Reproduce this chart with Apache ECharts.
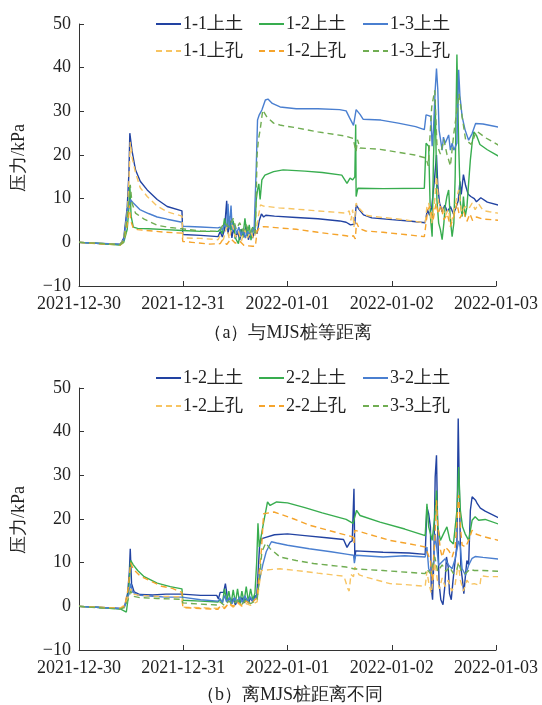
<!DOCTYPE html>
<html><head><meta charset="utf-8">
<script src="https://cdn.jsdelivr.net/npm/echarts@6/dist/echarts.min.js"></script>
<style>html,body{margin:0;padding:0;background:#fff}#c{width:542px;height:705px}</style>
</head><body><div id="c"></div>
<script>
// x values are hours since 2021-12-30 00:00
const tickLabels = ['2021-12-30','2021-12-31','2022-01-01','2022-01-02','2022-01-03'];
const captionA = '（a）与MJS桩等距离';
const captionB = '（b）离MJS桩距离不同';
const yName = '压力/kPa';

// ---- chart (a) ----
const namesA = ['1-1上土','1-2上土','1-3上土','1-1上孔','1-2上孔','1-3上孔'];
const a_11soil = [[0,0],[4,-0.2],[9.5,-0.5],[10.3,1.0],[11.1,8],[11.5,16],[11.7,25],[12.2,21],[13.0,16.6],[14.1,14],[15.7,12],[18,9.8],[20.3,8.2],[23.7,7.2],[23.9,1.8],[28,1.6],[32,1.3],
 [32.5,2.5],[33,1.2],[33.5,3],[34,9.5],[34.3,2],[34.8,5],[35.2,1],[35.6,3.5],[36,0.8],[36.5,2.5],[37,0.5],[37.5,3],[38,1.2],[38.5,4],[39,0.6],[39.5,2.5],[40,1],[40.5,3],[41,2],
 [41.5,5],[42,6.5],[42.5,5.8],[43,6.2],[45,6.0],[50,5.7],[55,5.4],[60,4.9],[61.5,4.6],[62.5,4.0],[63.5,4.2],[63.8,8.6],[64.5,7.5],[65.5,6.3],[67.4,5.6],[72,5.2],[76,4.9],[79.7,4.5],
 [80.2,7.5],[80.7,6.2],[81.2,8],[81.8,14],[82.3,20],[82.6,13],[83,9],[83.6,7],[84.2,8.5],[84.8,7],[85.5,8.2],[86.2,6.5],[86.8,8],[87.3,9.5],[87.7,14],[88,11],[88.5,15.5],[89,13],[89.6,11],[90.2,10.5],[91,10],[91.5,9.3],[92.5,10.2],[94,9.2],[97,8.4]];
const a_12soil = [[0,0],[4,-0.2],[9.5,-0.6],[10.3,0],[11.1,3],[11.5,8],[11.7,13],[12.0,6],[12.5,3.5],[13.5,3.2],[16,3.1],[20,2.9],[23.7,2.7],[23.9,2.6],[28,2.5],[32,2.5],
 [32.5,3],[33,2],[33.5,5.5],[34,3],[34.5,6],[35,2.5],[35.5,5],[36,1],[36.7,-0.3],[37.2,3],[37.7,1],[38.2,5.5],[38.7,1.5],[39.2,4],[39.6,0.5],[40,3.5],[40.5,2.5],
 [40.8,9.8],[41.1,12],[41.4,13.4],[41.7,9.8],[42.1,14.3],[42.8,15.4],[44.8,16.2],[47,16.6],[52,16.3],[56,16.0],[60.5,15.4],[61.7,13.5],[62.4,14.7],[63.0,14.3],[63.5,15],[63.7,27],[63.8,10.5],[64.2,12.4],[70,12.3],[79.5,12.4],
 [79.9,22.7],[80.5,22],[80.9,5.9],[81.3,1.3],[81.6,18.9],[82,32.6],[82.4,9.7],[82.8,4.4],[83.2,2.9],[83.6,0.6],[84,4.4],[84.3,8.2],[84.7,10.5],[85.1,12],[85.5,5.1],[85.9,1.3],[86.3,4.4],[86.6,15.1],[87.0,43],[87.4,22.7],[87.8,9],[88.2,5.9],[88.5,10.5],[88.9,5.9],[89.3,8],[89.7,13.6],[90.1,18.9],[90.5,22.7],[90.9,25.3],[91.5,24.5],[92.3,22.4],[94,21.2],[97,19.5]];
const a_13soil = [[0,0],[4,-0.2],[9.5,-0.4],[10.3,0.5],[11.0,6],[11.3,8.5],[11.5,7.8],[11.8,9.8],[12.5,9],[14,7.5],[16,6.6],[18,5.8],[20.3,5.3],[23.7,4.6],[23.9,3.7],[28,3.5],[32,3.3],
 [32.5,3.5],[33,2.8],[33.5,4],[34,3],[34.3,8.8],[34.6,3],[35,8.4],[35.3,2.5],[35.8,4],[36.3,2],[36.8,3.5],[37.3,1.5],[37.8,3],[38.3,1],[38.8,2.5],[39.3,1.5],[39.8,3],[40.3,2.5],[40.6,2.8],
 [40.8,17],[41.1,28],[41.5,29.2],[41.7,28.8],[42.1,30.3],[42.9,32.6],[43.5,32.8],[44.5,31.8],[46.3,31.0],[50,30.6],[55,30.6],[60,30.4],[61.5,30.1],[62.3,28.5],[63.2,26.8],[63.6,26.7],[63.8,30.4],[64.7,29.3],[65.4,28.2],[69.5,28],[73.5,27.3],[77.5,26.5],[79.5,25.8],
 [79.9,29.2],[80.5,29],[81,28.8],[81.3,22],[81.6,25.7],[82,34.9],[82.3,39.8],[82.6,35],[82.9,25.7],[83.6,21.1],[83.9,24.1],[84.3,22.7],[85.1,24.6],[85.5,21.1],[85.9,22.7],[86.3,21.1],[87,22.7],[87.4,39.5],[87.7,33.5],[88.2,28.8],[88.9,25.7],[89.7,23.4],[90.5,24.9],[91.3,27.2],[93,27.1],[97,26.3]];
const a_11hole = [[0,0],[4,-0.2],[9.5,-0.5],[10.3,0.8],[11.1,6],[11.5,14],[11.8,23],[12.3,19],[13,16],[14.1,12.5],[15.7,10.5],[18,8.3],[20.3,7],[23.7,6],[23.9,1.0],[28,0.9],[32,0.6],
 [32.5,1.5],[33.2,0.5],[34,3.5],[34.6,0.8],[35.3,4],[36,1.2],[36.7,2.5],[37.4,0.3],[38.1,3],[38.8,1],[39.5,2.5],[40.2,0.8],[40.8,2.5],
 [41.3,6],[41.8,8.6],[42.5,8.3],[46,7.9],[50,7.6],[55,7.2],[61.5,6.7],[62.2,7.2],[62.6,5],[63.0,7.5],[63.3,3.5],[63.8,9],[64.5,7.8],[66,6.2],[68,5.9],[73,5.4],[77.5,4.8],[79.7,4.4],
 [80.1,8.2],[80.5,9],[81.2,4.4],[81.9,9.7],[82.3,15.1],[82.8,9],[83.6,8.2],[84.3,6],[85,7.5],[85.7,4.4],[86.5,8.2],[87.4,12],[88.1,6.8],[88.9,8.2],[89.7,7.6],[90.5,9],[91.2,7.5],[92,8.8],[93,7.3],[94.5,7],[97,6.6]];
const a_12hole = [[0,0],[4,-0.3],[9.5,-0.6],[10.3,0.3],[11.1,4],[11.6,8.5],[11.9,5],[12.5,3.2],[13.5,2.9],[17,2.6],[20,2.3],[23.7,2.1],[23.9,0.2],[26,0],[30,-0.4],[32.5,-0.3],
 [33,0.5],[34,-0.5],[35,0.8],[36,-0.2],[37,0.3],[38,-0.7],[39,-0.8],[40,-0.9],[40.6,-0.9],
 [41,2.5],[41.5,3.3],[42.5,3.6],[46,3.3],[50,3.0],[55,2.3],[61.5,1.5],[62.5,1.3],[63.2,1.5],[63.6,0.8],[63.9,4.5],[64.5,3.2],[66,2.6],[70,2.3],[75,1.8],[79.5,1.3],
 [79.9,1.7],[80.3,7.5],[80.8,8.2],[81.5,5],[82.2,9],[82.7,6.5],[83.3,8.5],[84,5.2],[84.8,6.5],[85.5,3.6],[86.3,6],[87,9],[87.7,5.5],[88.5,7.2],[89.3,4.8],[90,6.5],[90.6,5],[91.5,5.8],[93,5.3],[95,5.2],[97,5.0]];
const a_13hole = [[0,0],[4,-0.2],[9.5,-0.5],[10.3,0.5],[11.0,5],[11.5,10],[11.8,13.2],[12.2,9],[13,6.7],[15,5.3],[18,3.9],[21,3.4],[23.7,3.1],[23.9,2.8],[28,2.6],[32,2.5],
 [32.5,3],[33.5,4.5],[34.5,3.5],[35.5,5.5],[36.2,3],[37,4.5],[37.8,2.5],[38.5,4],[39.3,2],[40,3.5],[40.6,2],
 [41,20],[41.3,23.5],[41.7,25.7],[42.3,30.3],[43.2,28.8],[44.8,27.3],[46.5,26.8],[49.6,26.3],[55,25.3],[61.5,24.3],[63.1,23.8],[63.5,22],[63.8,20.8],[64.1,23.5],[64.7,21.6],[69.3,21.3],[77.3,20.0],[79.9,19.3],
 [80.4,17.5],[81.2,31],[81.9,34.8],[82.4,22.4],[83.2,20.2],[84,23.5],[84.7,20.2],[85.5,17.5],[86.3,25],[87.5,34],[88.2,28.8],[89,23.5],[90.3,22.4],[91.5,25.5],[93.5,24],[97,22]];

// ---- chart (b) ----
const namesB = ['1-2上土','2-2上土','3-2上土','1-2上孔','2-2上孔','3-3上孔'];
const b_12soil = [[0,0],[4,-0.2],[9.5,-0.5],[10.5,0],[11.2,3],[11.6,8],[11.8,13.2],[12.1,5.2],[12.7,3.3],[14,2.7],[17,2.6],[20,2.8],[23.7,2.8],[23.9,2.5],[28,2.5],[31.7,2.5],[32.1,1.7],[32.5,3.2],[33.3,3.2],[33.7,5.2],[34,3.2],[34.2,1.2],
 [34.7,2],[35.1,0.5],[35.5,1.8],[36,0.3],[36.5,1.5],[37,0.6],[37.5,2],[38,0.8],[38.5,1.8],[39,0.7],[39.5,2],[40,1],[40.5,2.5],[40.9,2],
 [41.3,9],[41.6,14.3],[42.1,15.5],[43,15.8],[45,16.4],[48,16.6],[52,16.2],[57,15.7],[60.9,15.3],[61.7,13.5],[62.4,14.7],[62.9,15],[63.2,15.1],[63.3,26.9],[63.5,11],[63.7,12.7],[70,12.4],[76,12.2],[79.7,11.9],
 [80.1,22.7],[80.5,21.2],[80.9,18.2],[81.1,4.4],[81.4,1.5],[81.7,11.3],[82,29.6],[82.3,34.6],[82.6,16.6],[82.9,5.2],[83.3,1.5],[83.8,0.4],[84.2,4.4],[84.6,11.3],[85,9],[85.3,2.9],[85.7,1.5],[86.1,5.9],[86.6,10.5],[87,14],[87.3,43],[87.6,24.3],[87.9,9],[88.3,5.9],[88.6,2.9],[89,7.5],[89.3,10.5],[89.7,9.5],[90.1,22],[90.5,25.1],[90.9,25.5],[91.3,24.3],[91.7,23.5],[92.4,22.5],[93.5,21.8],[97,20.1]];
const b_22soil = [[0,0],[4,-0.2],[9.5,-0.6],[10.9,-1.3],[11.2,1],[11.6,6],[11.9,10.5],[12.5,9.5],[13.5,8.2],[15,6.8],[18,5.3],[21,4.5],[23.7,4.0],[23.9,1.4],[28,1.2],[32,1.0],
 [32.5,1.5],[33,0.6],[33.5,4],[34,1],[34.5,3.5],[35,0.5],[35.5,3.8],[36,0.8],[36.5,4],[37,0.5],[37.5,3.5],[38,1],[38.5,4.5],[39,1],[39.5,4],[40,1.5],[40.5,3],
 [40.9,10],[41.2,19],[41.5,13.6],[42.1,17],[42.5,19.2],[43.4,23.9],[43.6,24.3],[44,23.1],[45.5,23.9],[48,23.7],[52,22.6],[56,21.4],[61.5,19.9],[63.1,19],[63.5,18.7],[63.9,22],[64.7,20.8],[69.3,19.3],[75,17.7],[79.7,16.2],
 [80.1,23.5],[80.5,18.2],[81.3,15.1],[81.9,20.5],[82.3,26.5],[82.6,18.2],[83.2,15.1],[83.9,16.6],[84.7,18.2],[85.4,15.1],[86.2,14.3],[87,21.9],[87.4,31.9],[87.8,21.9],[88.3,18.2],[88.9,16.6],[89.7,15.1],[90.5,19.7],[91.2,20.5],[92,19.7],[93.5,19.9],[97,18.7]];
const b_32soil = [[0,0],[4,-0.2],[9.5,-0.5],[10.5,0],[11.3,2],[11.9,5.2],[12.3,3.3],[13.5,2.6],[17,2.3],[20,2.1],[23.7,2.1],[23.9,1.8],[28,1.5],[32,1.2],
 [32.5,1.8],[33,0.8],[33.5,2.5],[34,1],[34.6,2],[35.2,0.6],[35.8,2],[36.4,0.8],[37,2.2],[37.6,0.9],[38.2,2.4],[38.8,1],[39.4,2.2],[40,1.2],[40.6,2],[41,2.5],
 [41.5,5.7],[42.3,9.5],[43.1,12.5],[43.5,13.3],[44.3,14.8],[45.5,14.5],[48,14],[53,13.2],[58,12.5],[61.9,11.9],[63.2,11.7],[63.4,9.9],[63.7,11.7],[70,11.3],[75,11.6],[79.7,11.3],
 [80.1,13.6],[80.5,8.6],[81.3,7.1],[81.7,10.9],[82,16.6],[82.8,9.4],[83.6,10.2],[84.3,10.9],[85.1,9.4],[85.9,8.6],[86.6,10.9],[87.4,15],[87.8,13.6],[88.2,8.6],[89,7.1],[89.7,9.4],[90.5,11],[91.2,11.4],[93,11.2],[97,10.8]];
const b_12hole = [[0,0],[4,-0.2],[9.5,-0.4],[10.5,0.3],[11.3,2],[11.9,4],[12.5,2.8],[14,2.5],[18,2.3],[23.7,2.2],[23.9,-0.2],[28,-0.3],[32,-0.5],
 [32.5,0.2],[33.5,-0.3],[34.5,0.5],[35.5,-0.2],[36.5,0.8],[37.5,0],[38.5,0.6],[39.5,0.2],[40.5,0.8],[41,1],
 [41.5,5],[42,8.2],[44,8.4],[46.3,8.6],[50,8.2],[55,7.6],[61,6.9],[61.9,4.0],[62.2,3.5],[62.6,7.3],[63.2,6.8],[63.5,9],[64.5,7.2],[66,6.7],[71.6,5.2],[75,5.0],[79.7,4.6],
 [80.1,8],[80.5,5.5],[81.1,3],[81.6,7],[82,10],[82.5,6],[83,4],[83.6,6.5],[84.3,4.5],[85,6],[85.8,3.5],[86.6,5],[87.3,10],[87.8,6],[88.5,3.5],[89.3,6],[90,5],[91,5.2],[92.3,4.8],[92.6,7],[94,6.8],[97,6.8]];
const b_22hole = [[0,0],[4,-0.2],[9.5,-0.5],[10.5,0],[11.3,4],[11.9,10],[12.5,8.5],[14,7],[16,6],[19,4.6],[21.5,4.1],[23.7,3.2],[23.9,-0.3],[28,-0.5],[32,-0.7],
 [32.5,0],[33.5,-0.5],[34.5,0.8],[35.5,0],[36.5,1],[37.5,0.2],[38.5,1.2],[39.5,0.5],[40.5,1.5],[41,2],
 [41.5,8],[42.0,13],[42.5,21.2],[44.9,21.6],[49.5,20],[53,18.6],[61.5,16.3],[63.1,15.9],[63.3,14.5],[63.5,17.4],[65,17],[71.6,15.1],[75,14.5],[79.7,13.6],
 [80.1,13.6],[80.9,10.5],[81.3,5.9],[81.9,15.1],[82.3,24.3],[82.6,18.2],[83.2,13],[83.6,11.3],[84.3,13.6],[85.1,12.8],[85.9,11.3],[86.6,13.6],[87.4,25.5],[87.8,18.2],[88.2,14],[89,13.6],[89.7,15.1],[90.5,17.4],[91.5,16.5],[93,16],[97,15]];
const b_33hole = [[0,0],[4,-0.3],[9.5,-0.6],[10.5,-0.3],[11.3,1.5],[11.9,3.5],[12.5,2.3],[14,2],[18,1.8],[23.7,1.6],[23.9,0.8],[28,0.5],[32,0.3],
 [32.5,1],[33.5,0.2],[34.5,1.2],[35.5,0.4],[36.5,1.4],[37.5,0.5],[38.5,1.5],[39.5,0.6],[40.5,1.2],[41,1.5],
 [41.5,6],[42.1,12.5],[43,14.5],[44,13.2],[46.3,11.3],[50,10.5],[54,9.8],[61.5,9.0],[63.2,8.6],[70,8.2],[79.7,7.5],
 [80.1,8.5],[80.9,7.5],[81.9,11.3],[82.6,8],[83.6,9.5],[84.5,8],[85.3,9],[86.2,7.5],[87,8.5],[87.4,10],[88,8],[89,7.5],[90,8.5],[91,8.2],[93,8.2],[97,8]];

const colors = ['#2243a2','#38ad4f','#4a7fd0','#f7c462','#f5a42c','#70ad52'];
const FONT = 'Liberation Serif';
const ZW = '\u200b';

const dataA = [a_11soil,a_12soil,a_13soil,a_11hole,a_12hole,a_13hole];
const dataB = [b_12soil,b_22soil,b_32soil,b_12hole,b_22hole,b_33hole];

function mkSeries(names, data, idx, suffix) {
  return names.map((n, i) => ({
    name: n + suffix, type: 'line', xAxisIndex: idx, yAxisIndex: idx,
    data: data[i], symbol: 'none', showSymbol: false, clip: false,
    lineStyle: { color: colors[i], width: 1.4, type: i >= 3 ? [6, 4] : 'solid' },
    itemStyle: { color: colors[i] }, animation: false
  }));
}

const colX = [155, 258, 362];
function mkLegends(names, suffix, rowTops) {
  return names.map((n, i) => ({
    data: [n + suffix], left: colX[i % 3], top: rowTops[Math.floor(i / 3)],
    itemWidth: 25, itemHeight: 12, itemGap: 0, padding: 0,
    itemStyle: { opacity: 0 },
    formatter: s => s.replace(ZW, ''),
    textStyle: { fontFamily: FONT, fontSize: 18, color: '#222', padding: [0, 0, 0, -3] },
    selectedMode: false
  }));
}

function xAx(idx) {
  return { type: 'value', gridIndex: idx, min: 0, max: 96, interval: 24,
    axisLine: { show: true, onZero: false, lineStyle: { color: '#333', width: 1 } },
    axisTick: { show: true, inside: true, length: 5, lineStyle: { color: '#333' } },
    splitLine: { show: false },
    axisLabel: { fontFamily: FONT, fontSize: 18, color: '#222', margin: 9,
      formatter: v => tickLabels[Math.round(v / 24)] } };
}
function yAx(idx) {
  return { type: 'value', gridIndex: idx, min: -10, max: 50, interval: 10,
    axisLine: { show: true, lineStyle: { color: '#333', width: 1 } },
    axisTick: { show: true, inside: true, length: 5, lineStyle: { color: '#333' } },
    splitLine: { show: false },
    axisLabel: { fontFamily: FONT, fontSize: 18, color: '#222', margin: 8,
      formatter: v => v < 0 ? '\u2212' + Math.abs(v) : String(v) } };
}

const chart = echarts.init(document.getElementById('c'), null, { renderer: 'canvas' });
chart.setOption({
  backgroundColor: '#fff',
  animation: false,
  grid: [
    { left: 79, top: 24, width: 417, height: 262 },
    { left: 79, top: 388, width: 417, height: 262 }
  ],
  xAxis: [xAx(0), xAx(1)],
  yAxis: [yAx(0), yAx(1)],
  legend: mkLegends(namesA, '', [15, 42]).concat(mkLegends(namesB, ZW, [369, 397])),
  series: mkSeries(namesA, dataA, 0, '').concat(mkSeries(namesB, dataB, 1, ZW)),
  graphic: [
    { type: 'text', x: 288, y: 333, style: { text: captionA, font: '18px ' + FONT, fill: '#222', textAlign: 'center', textVerticalAlign: 'middle' } },
    { type: 'text', x: 290, y: 695, style: { text: captionB, font: '18px ' + FONT, fill: '#222', textAlign: 'center', textVerticalAlign: 'middle' } },
    { type: 'text', x: 19, y: 158, rotation: Math.PI / 2, style: { text: yName, font: '18px ' + FONT, fill: '#222', textAlign: 'center', textVerticalAlign: 'middle' } },
    { type: 'text', x: 19, y: 520, rotation: Math.PI / 2, style: { text: yName, font: '18px ' + FONT, fill: '#222', textAlign: 'center', textVerticalAlign: 'middle' } }
  ]
});
</script></body></html>
